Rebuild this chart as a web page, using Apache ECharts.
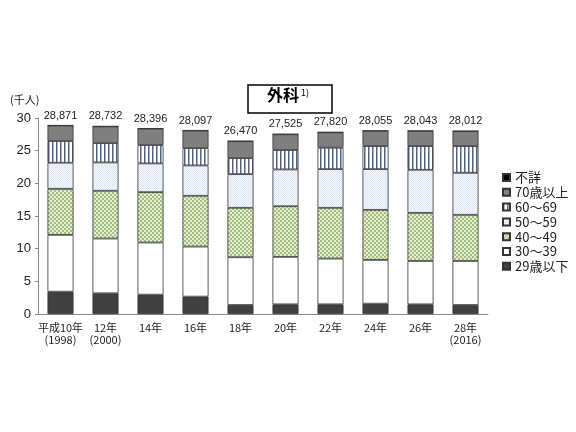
<!DOCTYPE html>
<html><head><meta charset="utf-8">
<script src="https://cdn.jsdelivr.net/npm/echarts@6/dist/echarts.min.js"></script>
<style>html,body{margin:0;padding:0;background:#fff}#c{width:576px;height:432px}</style>
</head><body><div id="c"></div>
<script>
const categories = ['平成10年\n(1998)','12年\n(2000)','14年','16年','18年','20年','22年','24年','26年','28年\n(2016)'];
const totals = [28871,28732,28396,28097,26470,27525,27820,28055,28043,28012];
const age29under = [3.42,3.17,2.96,2.66,1.38,1.48,1.48,1.58,1.48,1.38];
const age30s = [8.69,8.38,7.98,7.66,7.31,7.26,7.00,6.70,6.64,6.74];
const age40s = [7.05,7.31,7.71,7.77,7.56,7.76,7.77,7.66,7.36,7.06];
const age50s = [3.99,4.34,4.40,4.65,5.16,5.63,5.93,6.24,6.59,6.43];
const age60s = [3.32,2.96,2.81,2.66,2.45,2.96,3.27,3.52,3.63,4.09];
const age70over = [2.38,2.55,2.52,2.68,2.59,2.42,2.35,2.34,2.32,2.29];
const unknown = [0.02,0.02,0.02,0.02,0.02,0.02,0.02,0.02,0.02,0.02];
const seriesNames = ['29歳以下','30～39','40～49','50～59','60～69','70歳以上','不詳'];
const legendOrder = ['不詳','70歳以上','60～69','50～59','40～49','30～39','29歳以下'];

function pat(w,h,draw){const c=document.createElement('canvas');c.width=w;c.height=h;const g=c.getContext('2d');draw(g);return {image:c,repeat:'repeat'};}
const green = pat(4,4,g=>{g.fillStyle='#e6eed6';g.fillRect(0,0,4,4);g.fillStyle='#a3bd7c';g.fillRect(0,0,2,2);g.fillRect(2,2,2,2);});
const blue = pat(2,2,g=>{g.fillStyle='#f7f9fd';g.fillRect(0,0,2,2);g.fillStyle='#dbe4f4';g.fillRect(0,0,1,1);g.fillRect(1,1,1,1);});
const stripe = pat(4,4,g=>{g.fillStyle='#ffffff';g.fillRect(0,0,4,4);g.fillStyle='#56637e';g.fillRect(0,0,1,4);g.fillStyle='#a5aec2';g.fillRect(1,0,1,4);});

const fills = ['#404040','#ffffff',green,blue,stripe,'#7f7f7f','#000000'];
const datas = [age29under,age30s,age40s,age50s,age60s,age70over,unknown];
const font = '"Noto Sans CJK JP", sans-serif';

const series = seriesNames.map((n,i)=>({
  name:n, type:'bar', stack:'t', data:datas[i], barWidth:26,
  itemStyle:{color:fills[i], borderColor:'#333', borderWidth:0.8},
  label: i===6 ? {show:true, position:'top', distance:4, fontFamily:'Arial, "Liberation Sans", sans-serif', fontSize:11, color:'#222',
     formatter:p=>totals[p.dataIndex].toLocaleString('en-US')} : {show:false}
}));

const chart = echarts.init(document.getElementById('c'));
chart.setOption({
  animation:false,
  textStyle:{fontFamily:font},
  grid:{left:38,right:88,top:118,bottom:118},
  graphic:[
    {type:'rect',shape:{x:248,y:85,width:84,height:28},style:{fill:'#fff',stroke:'#000',lineWidth:1.5}},
    {type:'text',left:267,top:87,style:{text:'外科',font:'bold 16px "Noto Sans CJK JP"',fill:'#000'}},
    {type:'text',left:301,top:88,style:{text:'1)',font:'9px "Noto Sans CJK JP"',fill:'#000'}},
    {type:'text',left:10,top:94,style:{text:'(千人)',font:'11px "Noto Sans CJK JP"',fill:'#222'}}
  ],
  legend:{orient:'vertical',left:502,top:171,padding:0,itemWidth:7,itemHeight:7,itemGap:1.8,
    data:legendOrder,icon:'rect',
    textStyle:{fontFamily:font,fontSize:13,lineHeight:13,color:'#222',padding:[0,0,0,0]}},
  xAxis:{type:'category',data:categories,
    axisLine:{lineStyle:{color:'#888'}},
    axisTick:{inside:true,length:4,lineStyle:{color:'#888'}},
    axisLabel:{interval:0,fontFamily:font,fontSize:11,color:'#222',lineHeight:12,margin:8}},
  yAxis:{type:'value',min:0,max:30,interval:5,
    axisLine:{show:true,lineStyle:{color:'#888'}},
    axisTick:{show:true,length:3,lineStyle:{color:'#888'}},
    splitLine:{show:false},
    axisLabel:{fontFamily:'Arial, "Liberation Sans", sans-serif',fontSize:13,color:'#222',margin:7}},
  series:series
});
</script></body></html>
